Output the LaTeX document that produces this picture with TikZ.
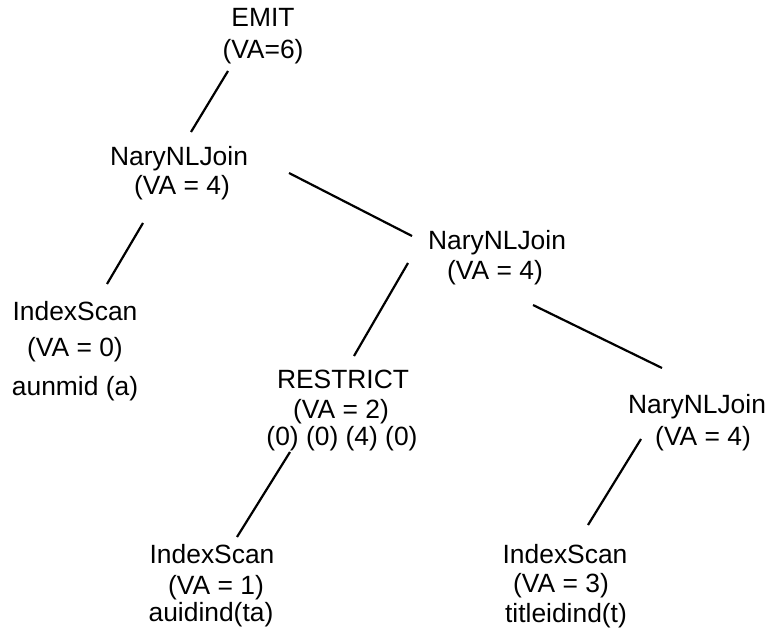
\documentclass[tikz,border=0pt]{standalone}
\usepackage{fontspec}
\setmainfont{Liberation Sans}
\begin{document}
\begin{tikzpicture}[x=0.5pt,y=-0.5pt,
  txt/.style={anchor=base,inner sep=0pt,font=\fontsize{13.2}{15}\selectfont},
  edge/.style={line width=1.1pt,black}]
\useasboundingbox (0,0) rectangle (780,635);
% EMIT
\node[txt] (emitA) at (263,27) {EMIT};
\node[txt] (emitB) at (263,59) {(VA=6)};
% NaryNLJoin 1
\node[txt] (nj1A) at (179,166) {NaryNLJoin};
\node[txt] (nj1B) at (182,195) {(VA = 4)};
% NaryNLJoin 2
\node[txt] (nj2A) at (497,250) {NaryNLJoin};
\node[txt] (nj2B) at (495,280) {(VA = 4)};
% IndexScan left
\node[txt] (is1A) at (75,321) {IndexScan};
\node[txt] (is1B) at (75,357) {(VA = 0)};
\node[txt] (is1C) at (75,395) {aunmid (a)};
% RESTRICT
\node[txt] (resA) at (343,388) {RESTRICT};
\node[txt] (resB) at (341,418) {(VA = 2)};
\node[txt] (resC) at (342,445) {(0) (0) (4) (0)};
% NaryNLJoin 3
\node[txt] (nj3A) at (697,413) {NaryNLJoin};
\node[txt] (nj3B) at (703,445) {(VA = 4)};
% IndexScan middle
\node[txt] (is2A) at (212,563) {IndexScan};
\node[txt] (is2B) at (216,594) {(VA = 1)};
\node[txt] (is2C) at (211,621) {auidind(ta)};
% IndexScan right
\node[txt] (is3A) at (565,563) {IndexScan};
\node[txt] (is3B) at (561,592) {(VA = 3)};
\node[txt] (is3C) at (566,622) {titleidind(t)};
% connector end points
\coordinate (c1a) at (228,71);  \coordinate (c1b) at (191,132);
\coordinate (c2a) at (289,173); \coordinate (c2b) at (412,236);
\coordinate (c3a) at (143,223); \coordinate (c3b) at (107,284);
\coordinate (c4a) at (408,263); \coordinate (c4b) at (354,356);
\coordinate (c5a) at (533,305); \coordinate (c5b) at (662,368);
\coordinate (c6a) at (641,439); \coordinate (c6b) at (588,525);
\coordinate (c7a) at (290,452); \coordinate (c7b) at (237,537);
\draw[edge] (c1a) -- (c1b);
\draw[edge] (c2a) -- (c2b);
\draw[edge] (c3a) -- (c3b);
\draw[edge] (c4a) -- (c4b);
\draw[edge] (c5a) -- (c5b);
\draw[edge] (c6a) -- (c6b);
\draw[edge] (c7a) -- (c7b);
\end{tikzpicture}
\end{document}
